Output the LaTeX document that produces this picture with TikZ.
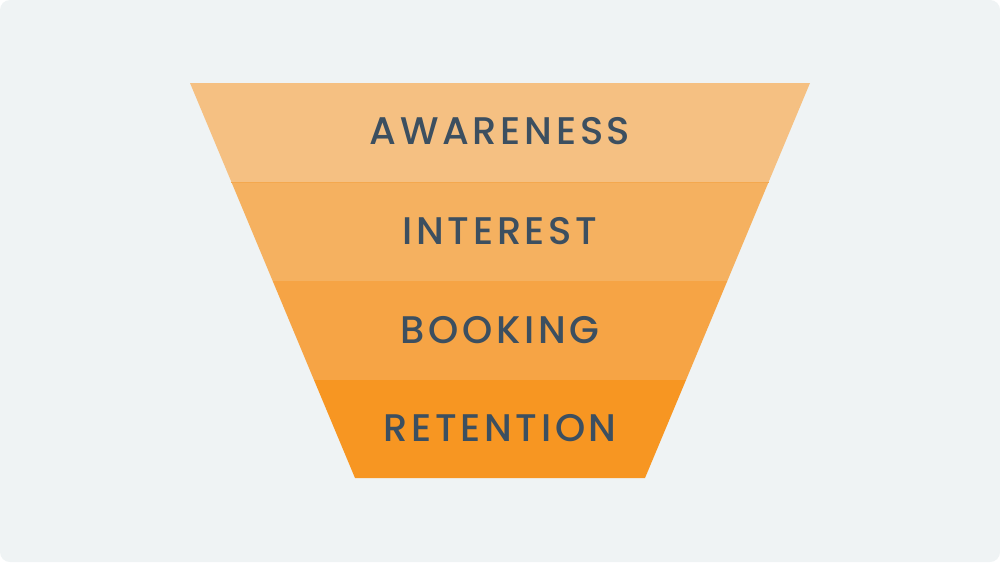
\documentclass[tikz,border=0pt]{standalone}
\usepackage{fontspec}
\setmainfont{Poppins}
\newfontfamily\stagefont{Poppins Medium}[LetterSpace=9.5]
\definecolor{bgGray}{HTML}{EFF3F4}
\definecolor{bandOne}{HTML}{F5C082}
\definecolor{bandTwo}{HTML}{F5B160}
\definecolor{bandThree}{HTML}{F6A445}
\definecolor{bandFour}{HTML}{F79622}
\definecolor{seamLine}{HTML}{F4A84E}
\definecolor{labelInk}{HTML}{3C4F60}
\tikzset{
	stagelabel/.style={text=labelInk, font=\stagefont\fontsize{38.5}{42}\selectfont, inner sep=0pt, anchor=center},
}
\begin{document}
\begin{tikzpicture}[x=1pt, y=-1pt]
			\useasboundingbox (0.00,0.00) rectangle (1000.00,562.00);
			\fill[white] (0.00,0.00) rectangle (1000.00,562.00);
			\fill[bgGray, rounded corners=10pt] (0.00,0.00) rectangle (1000.00,562.00);
			\fill[bandOne] (190.00,83.00) -- (810.00,83.00) -- (768.60,182.00) -- (231.40,182.00) -- cycle;
			\fill[bandTwo] (231.40,182.00) -- (768.60,182.00) -- (727.30,281.00) -- (272.70,281.00) -- cycle;
			\fill[bandThree] (272.70,281.00) -- (727.30,281.00) -- (686.00,380.00) -- (314.00,380.00) -- cycle;
			\fill[bandFour] (314.00,380.00) -- (686.00,380.00) -- (645.00,478.00) -- (355.00,478.00) -- cycle;
			\draw[draw=seamLine, very thin, solid] (231.40,182.00) -- (768.60,182.00);
			\node[stagelabel] (awareness) at (500.00,131.00) {AWARENESS};
			\node[stagelabel] (interest) at (500.00,231.50) {INTEREST};
			\node[stagelabel] (booking) at (500.00,330.00) {BOOKING};
			\node[stagelabel] (retention) at (500.00,428.50) {RETENTION};
		\end{tikzpicture}
\end{document}
